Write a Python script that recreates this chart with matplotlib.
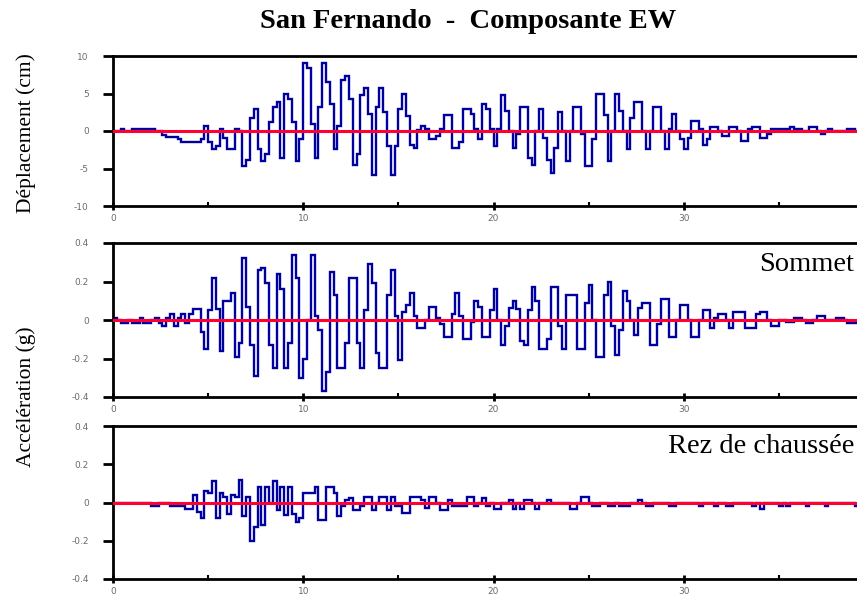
import numpy as np
import matplotlib
matplotlib.use("Agg")
import matplotlib.pyplot as plt
from matplotlib.ticker import FixedLocator

# ---------------- data ----------------
dt = 0.2  # sampling step (s)

deplacement_cm = [
    0, 0, 0.3, 0, 0, 0.3, 0.3, 0.3, 0.3, 0.3,
    0.3, 0, 0, -0.5, -0.8, -0.8, -0.8, -1.1, -1.5, -1.5,
    -1.5, -1.5, -1.5, -1.1, 0.7, -1.5, -2.4, -2.0, 0.3, -0.9,
    -2.4, -2.4, 0.3, 0.0, -4.7, -3.8, 1.8, 3.0, -2.4, -4.0,
    -3.1, 1.2, 3.2, 3.9, -3.6, 5.0, 4.3, 1.2, -4.0, -1.1,
    9.1, 8.4, 1.0, -3.6, 3.2, 9.1, 6.6, 3.6, -2.4, 0.7,
    6.8, 7.3, 4.3, -4.5, -3.0, 4.8, 5.7, 2.3, -5.8, 3.2,
    5.7, 2.5, -2.0, -5.8, -2.0, 3.0, 5.0, 2.0, -1.8, -2.2,
    0.2, 0.7, 0.3, -1.1, -1.1, -0.6, 0.3, 2.1, 2.1, -2.2,
    -2.2, -1.5, 3.0, 3.0, 2.3, 0.3, -1.1, 3.6, 2.9, 0.3,
    -2.0, 0.3, 4.8, 2.7, 0.0, -2.2, -0.4, 3.2, 3.2, -3.6,
    -4.5, 0.0, 3.0, -0.9, -3.8, -5.6, -2.2, 2.5, 0.0, -4.0,
    0.0, 3.2, 3.2, -0.4, -4.7, -4.7, -1.1, 5.0, 5.0, 2.1,
    -4.0, 0.0, 5.0, 2.7, 0.0, -2.4, 1.8, 3.9, 3.9, 0.0,
    -2.4, 0.0, 3.2, 3.2, 0.0, -2.4, 0.3, 2.3, 0.0, -1.0,
    -2.4, -0.9, 1.4, 1.4, 0.3, -1.8, -1.1, 0.6, 0.6, 0.0,
    -0.6, -0.6, 0.5, 0.5, 0.0, -1.3, -1.3, 0.3, 0.6, 0.6,
    -0.9, -0.9, -0.4, 0.3, 0.3, 0.3, 0.3, 0.3, 0.6, 0.3,
    0.3, 0.0, 0.0, 0.5, 0.5, 0.0, -0.4, 0.0, 0.3, 0.0,
    0.0, 0.0, 0.0, 0.3, 0.3, 0.0, 0.0, 0.3, 0.3, 0.3,
]

acc_sommet_g = [
    0.01, 0.0, -0.016, -0.016, 0.0, -0.016, -0.016, 0.01, -0.016, -0.016,
    0.0, 0.01, -0.016, -0.03, 0.01, 0.03, -0.03, 0.01, 0.03, -0.016,
    0.03, 0.056, 0.056, -0.06, -0.15, 0.05, 0.22, 0.056, -0.16, 0.10,
    0.10, 0.14, -0.19, -0.12, 0.32, 0.07, -0.13, -0.29, 0.26, 0.27,
    0.19, -0.13, -0.25, 0.24, 0.16, -0.25, -0.12, 0.34, 0.22, -0.30,
    -0.20, 0.0, 0.34, 0.02, -0.05, -0.37, -0.27, 0.25, 0.13, -0.25,
    -0.25, -0.12, 0.22, 0.22, -0.12, -0.25, 0.05, 0.29, 0.19, -0.17,
    -0.25, -0.25, 0.13, 0.26, 0.02, -0.21, 0.04, 0.08, 0.14, 0.02,
    -0.04, -0.04, 0.0, 0.07, 0.07, 0.01, -0.02, -0.09, -0.09, 0.03,
    0.14, 0.02, -0.10, -0.10, -0.01, 0.10, 0.07, -0.09, -0.09, 0.05,
    0.16, 0.0, -0.13, -0.03, 0.06, 0.10, 0.056, -0.11, -0.13, 0.05,
    0.17, 0.10, -0.15, -0.15, -0.10, 0.17, 0.17, -0.03, -0.15, 0.13,
    0.13, 0.13, -0.15, -0.15, 0.09, 0.18, 0.0, -0.19, -0.19, 0.13,
    0.20, -0.03, -0.18, -0.05, 0.15, 0.10, 0.0, -0.08, 0.06, 0.09,
    0.09, -0.13, -0.13, -0.02, 0.11, 0.11, -0.09, -0.09, 0.0, 0.08,
    0.08, 0.0, -0.09, -0.09, 0.0, 0.05, 0.05, -0.04, 0.01, 0.03,
    0.03, 0.0, -0.04, 0.04, 0.04, 0.04, -0.04, -0.04, -0.04, 0.03,
    0.04, 0.04, 0.0, -0.03, -0.03, 0.0, 0.0, -0.01, -0.01, 0.01,
    0.01, 0.0, -0.015, -0.015, 0.0, 0.02, 0.02, 0.0, 0.0, 0.0,
    0.01, 0.01, 0.0, -0.015, -0.015, -0.015, 0.0, 0.0, -0.005, 0.0,
]

acc_rez_g = [
    0, 0, 0, 0, 0, 0, 0, 0, 0, 0,
    -0.016, -0.016, 0, 0, 0, -0.016, -0.016, -0.016, -0.016, -0.035,
    -0.035, 0.04, -0.05, -0.08, 0.06, 0.05, 0.11, -0.08, 0.05, 0.03,
    -0.06, 0.04, 0.03, 0.12, -0.07, 0.03, -0.20, -0.13, 0.08, -0.12,
    0.08, 0.0, 0.11, -0.04, 0.08, -0.065, 0.08, -0.06, -0.10, -0.08,
    0.05, 0.05, 0.05, 0.08, -0.09, -0.09, 0.08, 0.08, 0.05, -0.07,
    -0.02, 0.015, 0.025, -0.04, -0.04, -0.02, 0.03, 0.03, -0.04, 0.0,
    0.03, 0.03, -0.04, 0.03, -0.02, -0.02, -0.055, -0.055, 0.03, 0.03,
    0.03, 0.015, -0.03, 0.03, 0.03, 0.0, -0.04, -0.04, 0.015, -0.016,
    -0.016, -0.016, -0.016, 0.03, 0.03, -0.016, 0.0, 0.025, -0.016, 0.0,
    -0.035, -0.035, 0.0, 0.0, 0.015, -0.035, 0.0, -0.035, 0.015, 0.015,
    0.0, -0.035, 0.0, 0.0, 0.015, 0, 0, 0, 0, 0,
    -0.035, -0.035, 0.0, 0.03, 0.03, 0.0, -0.016, -0.016, 0.0, 0.0,
    -0.016, -0.016, 0.0, -0.016, -0.016, -0.016, 0.0, 0.0, 0.015, 0.0,
    -0.016, -0.016, 0, 0, 0, 0, -0.016, -0.016, 0, 0,
    0, 0, 0, 0, -0.016, 0, 0, 0, -0.016, 0,
    0, -0.016, -0.016, 0, 0, 0, 0, 0, -0.016, 0.0,
    -0.035, 0, 0, 0, 0, -0.016, 0, -0.016, 0, 0,
    0, 0, -0.016, 0, 0, 0, 0, -0.016, 0, 0,
    0, 0, 0, 0, 0, -0.016, 0, 0, 0, 0,
]

x_ticks = [0, 10, 20, 30, 40]
x_minor = [5, 15, 25, 35]
y_ticks_disp = [-10, -5, 0, 5, 10]
y_ticks_acc = [-0.4, -0.2, 0, 0.2, 0.4]

title = "San Fernando  -  Composante EW"
ylabel_disp = "Déplacement (cm)"
ylabel_acc = "Accélération (g)"
label_sommet = "Sommet"
label_rez = "Rez de chaussée"

# ---------------- styling ----------------
BLUE = "#0000A0"
RED = "#FF0033"
SERIF = ["Liberation Serif", "DejaVu Serif"]
TICK_COLOR = "#6a6a6a"

W, H = 857, 600
fig = plt.figure(figsize=(W / 100, H / 100), dpi=100)


def px_axes(left, top, right, bottom):
    return [left / W, 1 - bottom / H, (right - left) / W, (bottom - top) / H]


def fmt(v):
    if v == 0:
        return "0"
    return f"{v:g}"


def style_axes(ax, ylim, yticks):
    ax.set_xlim(0, 40)
    ax.set_ylim(*ylim)
    for sp in ax.spines.values():
        sp.set_linewidth(2.0)
        sp.set_color("black")
    ax.xaxis.set_major_locator(FixedLocator(x_ticks))
    ax.xaxis.set_minor_locator(FixedLocator(x_minor))
    ax.set_xticklabels([fmt(v) for v in x_ticks])
    ax.yaxis.set_major_locator(FixedLocator(yticks))
    ax.set_yticklabels([fmt(v) for v in yticks])
    ax.tick_params(axis="x", which="major", direction="inout", length=6,
                   width=2.0, pad=3, labelsize=6.5, labelcolor=TICK_COLOR)
    ax.tick_params(axis="x", which="minor", direction="in", length=3,
                   width=1.5)
    ax.tick_params(axis="y", which="major", direction="out", length=7.5,
                   width=2.0, pad=10, labelsize=6.5, labelcolor=TICK_COLOR)
    ax.set_facecolor("white")


def draw(ax, vals):
    v = np.asarray(vals, dtype=float)
    t = np.arange(len(v) + 1) * dt
    y = np.append(v, v[-1])
    ax.step(t, y, where="post", color=BLUE, lw=1.7, zorder=2,
            solid_joinstyle="miter")
    ax.axhline(0, color=RED, lw=2.2, zorder=3)


ax1 = fig.add_axes(px_axes(113, 56, 874, 206))
draw(ax1, deplacement_cm)
style_axes(ax1, (-10, 10), y_ticks_disp)

ax2 = fig.add_axes(px_axes(113, 243, 874, 397))
draw(ax2, acc_sommet_g)
style_axes(ax2, (-0.4, 0.4), y_ticks_acc)

ax3 = fig.add_axes(px_axes(113, 426, 874, 579))
draw(ax3, acc_rez_g)
style_axes(ax3, (-0.4, 0.4), y_ticks_acc)

fig.text(468 / W, 1 - 28 / H, title, ha="center", va="baseline",
         fontsize=20.5, fontweight="bold", family=SERIF)
fig.text(26 / W, 1 - 133 / H, ylabel_disp, rotation=90, ha="center",
         va="center", fontsize=15.5, family=SERIF)
fig.text(26 / W, 1 - 397 / H, ylabel_acc, rotation=90, ha="center",
         va="center", fontsize=15.5, family=SERIF)
fig.text(854 / W, 1 - 271 / H, label_sommet, ha="right", va="baseline",
         fontsize=20.5, family=SERIF)
fig.text(854 / W, 1 - 453 / H, label_rez, ha="right", va="baseline",
         fontsize=20.5, family=SERIF)

fig.savefig("out.png", dpi=100, facecolor="white")
